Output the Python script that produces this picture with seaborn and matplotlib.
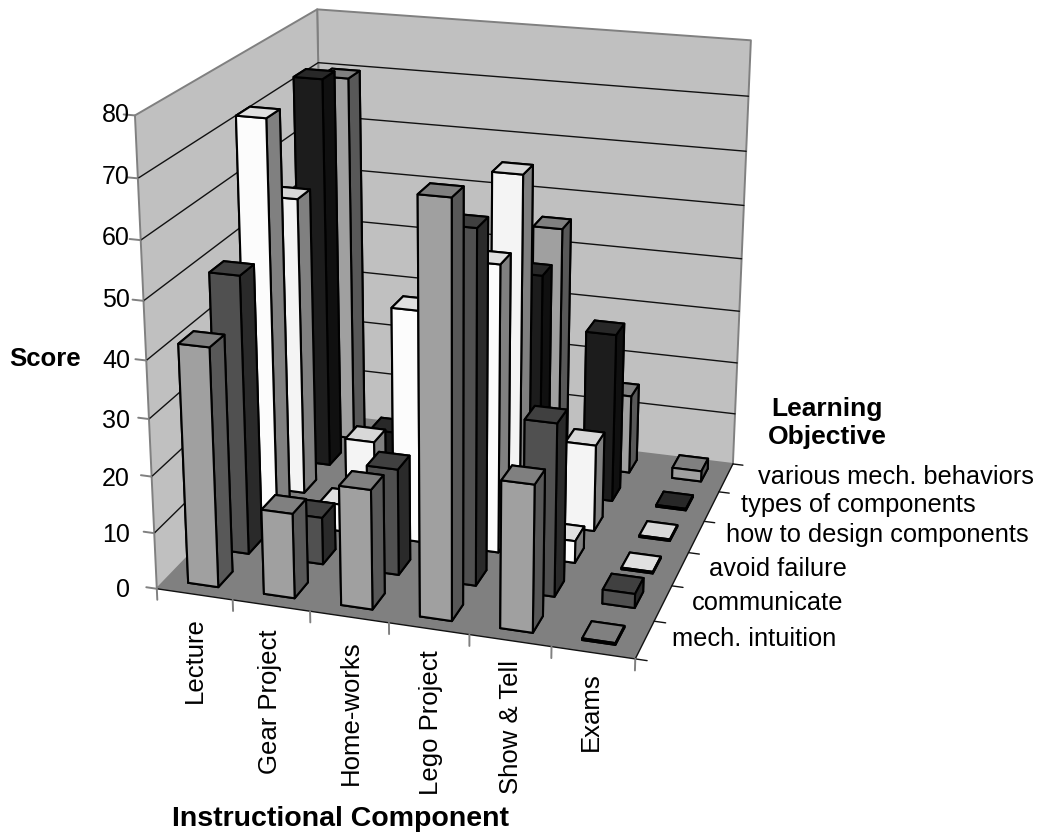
import numpy as np
import matplotlib
matplotlib.use("Agg")
import matplotlib.pyplot as plt
import seaborn as sns
from mpl_toolkits.mplot3d.art3d import Poly3DCollection

components = ["Lecture", "Gear Project", "Home-works", "Lego Project", "Show & Tell", "Exams"]
objectives = ["mech. intuition", "communicate", "avoid failure", "how to design components",
              "types of components", "various mech. behaviors"]

mech_intuition = [42, 15, 21, 70.5, 25.5, 0.3]
communicate = [49.7, 8.5, 19, 61.7, 30.5, 2.5]
avoid_failure = [72.7, 5, 42, 51.5, 4, 0.3]
how_to_design = [55, 11.5, 6, 63, 16, 0.3]
types_of_components = [73, 8, 10, 41, 31.5, 0.3]
various_behaviors = [70, 5, 6, 45.5, 15, 2]
scores = [mech_intuition, communicate, avoid_failure, how_to_design, types_of_components, various_behaviors]

z_ticks = [0, 10, 20, 30, 40, 50, 60, 70, 80]

# front, side, top shades per series
front_colors = ["#a0a0a0", "#505050", "#fcfcfc", "#f4f4f4", "#1c1c1c", "#a0a0a0"]
side_colors = ["#585858", "#2a2a2a", "#808080", "#808080", "#101010", "#585858"]
top_colors = ["#808080", "#404040", "#e0e0e0", "#d8d8d8", "#282828", "#808080"]

W, H = 1037, 834

sns.set_theme(style="white")
plt.rcParams["font.family"] = ["Liberation Sans", "DejaVu Sans"]

fig = plt.figure(figsize=(W / 100, H / 100), dpi=100, facecolor="white")
ax = fig.add_axes([0, -(W - H) / 2 / H, 1, W / H], projection="3d", computed_zorder=False)
ax.set_axis_off()

# camera fitted to the box corners seen in the picture (world -> pixel)
world = np.array([[0, 0, 0], [6, 0, 0], [6, 6, 0], [0, 6, 0], [0, 0, 80], [0, 6, 80], [6, 6, 80]], float)
pixel = np.array([[157, 590], [635, 658], [733, 465], [325, 413], [135, 115], [317, 10], [751, 40]], float)
rows, rhs = [], []
for (x, y, z), (u, v) in zip(world, pixel):
    rows.append([x, y, z, 1, 0, 0, 0, 0, -u * x, -u * y, -u * z])
    rows.append([0, 0, 0, 0, x, y, z, 1, -v * x, -v * y, -v * z])
    rhs += [u, v]
h = np.linalg.lstsq(np.array(rows), np.array(rhs), rcond=None)[0]
cam_u, cam_v, cam_w = h[:4], h[4:8], np.append(h[8:], 1.0)


def fitted_proj():
    x0, x1 = ax.viewLim.intervalx
    y0, y1 = ax.viewLim.intervaly
    off = (W - H) / 2
    row_x = x0 * cam_w + (x1 - x0) / W * cam_u
    row_y = y1 * cam_w - (y1 - y0) / W * (cam_v + off * cam_w)
    # depth stays negative, Line3D masks points with depth > 0
    row_d = np.array([0, 0, 0, -1.0])
    return np.array([row_x, row_y, row_d, cam_w])


ax.get_proj = fitted_proj

# walls and floor
wall_grey = "#c0c0c0"
edge_grey = "#808080"
walls = [[(0, 0, 0), (0, 6, 0), (0, 6, 80), (0, 0, 80)],
         [(0, 6, 0), (6, 6, 0), (6, 6, 80), (0, 6, 80)]]
ax.add_collection3d(Poly3DCollection(walls, facecolors=wall_grey, edgecolors=edge_grey,
                                     linewidths=1.4, zorder=0))
floor = [[(0, 0, 0), (6, 0, 0), (6, 6, 0), (0, 6, 0)]]
ax.add_collection3d(Poly3DCollection(floor, facecolors="#808080", edgecolors="none", zorder=1))

for tick in z_ticks[1:-1]:
    ax.plot([0, 0, 6], [0, 6, 6], [tick, tick, tick], color="#111111", lw=1.0, zorder=5)
ax.plot([0, 6, 6], [0, 0, 6], [0, 0, 0], color="#111111", lw=1.0, zorder=5)

for tick in z_ticks:
    ax.plot([-0.14, 0], [0, 0], [tick, tick], color=edge_grey, lw=1.4, zorder=5)
for i in range(7):
    ax.plot([i, i], [0, 0], [0, -2.0], color=edge_grey, lw=1.4, zorder=5)
    ax.plot([6, 6.14], [i, i], [0, 0], color="#111111", lw=1.0, zorder=5)

# back to front so nearer bars cover farther ones
bar_w, bar_d = 0.40, 0.46
order = 10
for j in range(5, -1, -1):
    for i in range(6):
        faces = [side_colors[j], top_colors[j], front_colors[j], side_colors[j], side_colors[j], side_colors[j]]
        ax.bar3d(i + 0.5 - bar_w / 2, j + 0.5 - bar_d / 2, 0, bar_w, bar_d, scores[j][i],
                 color=faces, shade=False, edgecolor="black", linewidth=1.5, zorder=order)
        order += 1


def label(px, py, text, **kw):
    kw.setdefault("color", "black")
    fig.text(px / W, 1 - py / H, text, **kw)


z_label_y = [590, 535, 479, 421, 361, 300, 238, 177, 115]
for tick, py in zip(z_ticks, z_label_y):
    label(130, py, str(tick), ha="right", va="center", fontsize=18)

x_label_x = [195, 270, 351, 431, 511, 591]
x_label_top = [617, 630, 640, 650, 660, 672]
for name, px, py in zip(components, x_label_x, x_label_top):
    label(px, py, name, rotation=90, ha="center", va="top", fontsize=18.5)

y_label_x = [672, 692, 709, 726, 741, 758]
y_label_y = [639, 603, 569, 535, 505, 477]
for name, px, py in zip(objectives, y_label_x, y_label_y):
    label(px, py, name, ha="left", va="center", fontsize=18.3)

label(45, 359, "Score", ha="center", va="center", fontsize=18.5, fontweight="bold")
label(341, 819, "Instructional Component", ha="center", va="center", fontsize=20.5, fontweight="bold")
label(827, 423, "Learning\nObjective", ha="center", va="center", fontsize=19, fontweight="bold", linespacing=1.2)

fig.savefig("out.png", dpi=100, facecolor="white")
